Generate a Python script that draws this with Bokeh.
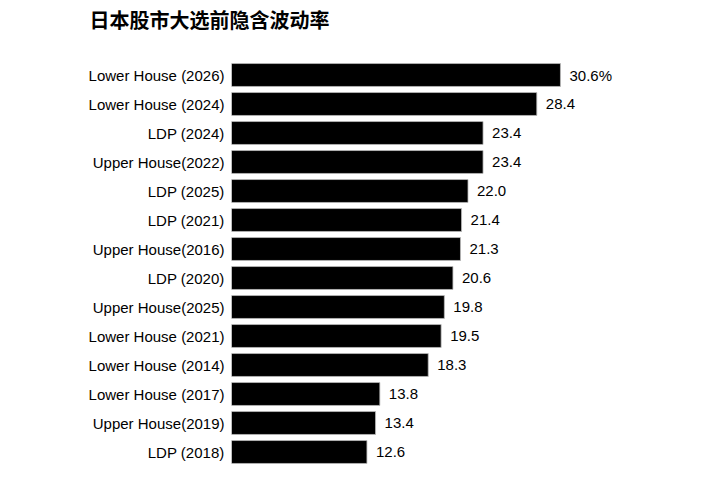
from bokeh.plotting import figure
from bokeh.models import ColumnDataSource, Range1d, FactorRange, Title
from bokeh.core.properties import value
from bokeh.embed import file_html
from bokeh.resources import INLINE

title_text = "日本股市大选前隐含波动率"
labels = ["Lower House (2026)", "Lower House (2024)", "LDP (2024)", "Upper House(2022)",
          "LDP (2025)", "LDP (2021)", "Upper House(2016)", "LDP (2020)",
          "Upper House(2025)", "Lower House (2021)", "Lower House (2014)",
          "Lower House (2017)", "Upper House(2019)", "LDP (2018)"]
values = [30.6, 28.4, 23.4, 23.4, 22.0, 21.4, 21.3, 20.6, 19.8, 19.5, 18.3, 13.8, 13.4, 12.6]

texts = [f"{v:.1f}%" if i == 0 else f"{v:.1f}" for i, v in enumerate(values)]
src = ColumnDataSource(dict(y=labels, x=values, t=texts))

p = figure(width=715, height=470, output_backend="svg", toolbar_location=None,
           y_range=FactorRange(*reversed(labels)), x_range=Range1d(0, 40),
           min_border_left=231, min_border_right=54, min_border_top=60, min_border_bottom=4)

p.hbar(y="y", right="x", left=0, height=0.79, source=src,
       fill_color="black", line_color="#bbbbbb", line_width=0.8)
p.text(x="x", y="y", text="t", source=src, x_offset=9, text_align="left",
       text_baseline="middle", text_font=value("Liberation Sans"),
       text_font_size="15px", text_color="black")

# spacer between the frame and the title (nearest the frame)
spacer = Title(text=" ", text_font_size="2px", standoff=21)
p.add_layout(spacer, "above")

p.title.text = title_text
p.title.text_font = "Noto Sans CJK SC"
p.title.text_font_size = "20px"
p.title.text_font_style = "bold"
p.title.text_color = "black"
p.title.align = "left"
p.title.vertical_align = "top"
p.title.offset = -142
p.title.standoff = 0

p.xaxis.visible = False
p.yaxis.axis_line_color = None
p.yaxis.major_tick_line_color = None
p.yaxis.minor_tick_line_color = None
p.yaxis.major_tick_out = 0
p.yaxis.major_tick_in = 0
p.yaxis.major_label_standoff = 7
p.yaxis.major_label_text_font = "Liberation Sans"
p.yaxis.major_label_text_font_size = "15px"
p.yaxis.major_label_text_color = "black"
p.grid.visible = False
p.outline_line_color = None

open("out.html", "w").write(file_html(p, INLINE))
